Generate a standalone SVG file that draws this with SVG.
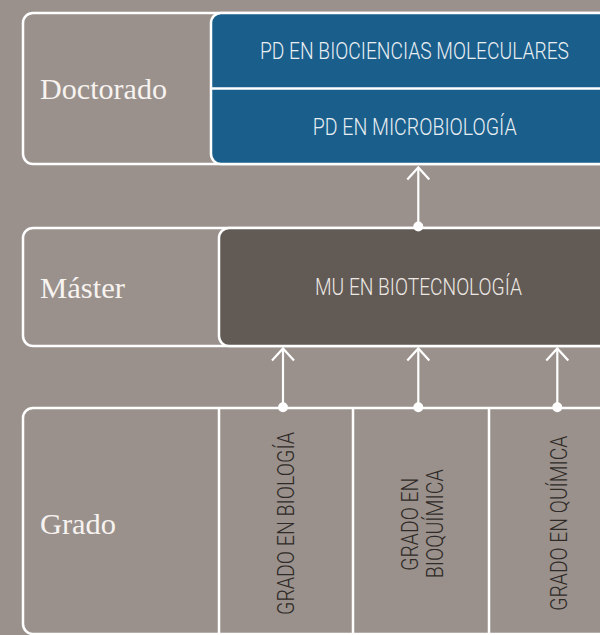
<svg xmlns="http://www.w3.org/2000/svg" width="600" height="635" viewBox="0 0 600 635">
  <defs>
    <style>
      .frame { fill: none; stroke: #ffffff; stroke-width: 2.5; }
      .blue { fill: #1a5f8c; stroke: #ffffff; stroke-width: 2.5; }
      .dark { fill: #625a55; stroke: #ffffff; stroke-width: 2.5; }
      .sep { stroke: #ffffff; stroke-width: 2.5; fill: none; }
      .level { font-family: "Liberation Serif", "DejaVu Serif", serif; font-size: 29px; fill: #f7f3f0; }
      .lbl { font-family: Roboto, "Liberation Sans", sans-serif; font-weight: 300; font-size: 23.5px; fill: #e9eef2; }
      .lblv { font-family: Roboto, "Liberation Sans", sans-serif; font-weight: 300; font-size: 23.5px; fill: #2f2a27; }
      .conn { stroke: #ffffff; stroke-width: 2.2; fill: none; marker-start: url(#dot); marker-end: url(#chev); }
    </style>
    <marker id="chev" markerUnits="userSpaceOnUse" orient="auto" refX="0" refY="0" markerWidth="30" markerHeight="30" overflow="visible">
      <path d="M-12,-11 L0,0 L-12,11" fill="none" stroke="#ffffff" stroke-width="2.2"/>
    </marker>
    <marker id="dot" markerUnits="userSpaceOnUse" orient="auto" refX="0" refY="0" markerWidth="12" markerHeight="12" overflow="visible">
      <circle cx="0" cy="0" r="5" fill="#ffffff"/>
    </marker>
  </defs>
  <rect x="0" y="0" width="600" height="635" fill="#9a918c"/>

  <g id="doctorado">
    <rect class="frame" x="23" y="13" width="640" height="151" rx="10"/>
    <text class="level" x="40" y="99" textLength="127" lengthAdjust="spacingAndGlyphs">Doctorado</text>
  </g>
  <g id="pd-biociencias">
    <rect class="blue" x="211" y="13" width="440" height="151" rx="10"/>
    <line class="sep" x1="211" y1="88.5" x2="600" y2="88.5"/>
    <text class="lbl" x="260" y="59.3" textLength="309" lengthAdjust="spacingAndGlyphs">PD EN BIOCIENCIAS MOLECULARES</text>
  </g>
  <g id="pd-microbiologia">
    <text class="lbl" x="312.7" y="135" textLength="204" lengthAdjust="spacingAndGlyphs">PD EN MICROBIOLOGÍA</text>
  </g>

  <g id="master">
    <rect class="frame" x="23" y="228" width="640" height="118" rx="10"/>
    <text class="level" x="40" y="297.7" textLength="85" lengthAdjust="spacingAndGlyphs">Máster</text>
  </g>
  <g id="mu-biotecnologia">
    <rect class="dark" x="219" y="228" width="440" height="118" rx="10"/>
    <text class="lbl" x="315" y="295" textLength="207" lengthAdjust="spacingAndGlyphs" style="fill:#ece8e4">MU EN BIOTECNOLOGÍA</text>
  </g>

  <g id="grado">
    <rect class="frame" x="23" y="408" width="640" height="226" rx="10"/>
    <text class="level" x="40" y="534" textLength="76" lengthAdjust="spacingAndGlyphs">Grado</text>
  </g>
  <g id="grado-biologia">
    <line class="sep" x1="219" y1="408" x2="219" y2="636"/>
    <text class="lblv" transform="translate(294,615) rotate(-90)" x="0" y="0" textLength="183" lengthAdjust="spacingAndGlyphs">GRADO EN BIOLOGÍA</text>
  </g>
  <g id="grado-bioquimica">
    <line class="sep" x1="353" y1="408" x2="353" y2="636"/>
    <text class="lblv" transform="translate(418.3,570.7) rotate(-90)" x="0" y="0" textLength="93" lengthAdjust="spacingAndGlyphs">GRADO EN</text>
    <text class="lblv" transform="translate(443.3,578.3) rotate(-90)" x="0" y="0" textLength="109" lengthAdjust="spacingAndGlyphs">BIOQUÍMICA</text>
  </g>
  <g id="grado-quimica">
    <line class="sep" x1="489" y1="408" x2="489" y2="636"/>
    <text class="lblv" transform="translate(566.7,610.7) rotate(-90)" x="0" y="0" textLength="175" lengthAdjust="spacingAndGlyphs">GRADO EN QUÍMICA</text>
  </g>

  <g id="connectors">
    <line class="conn" x1="418.3" y1="226.5" x2="418.3" y2="167.5"/>
    <line class="conn" x1="283" y1="407.3" x2="283" y2="348.5"/>
    <line class="conn" x1="418.3" y1="407.3" x2="418.3" y2="348.5"/>
    <line class="conn" x1="557.3" y1="407.3" x2="557.3" y2="348.5"/>
  </g>
</svg>
